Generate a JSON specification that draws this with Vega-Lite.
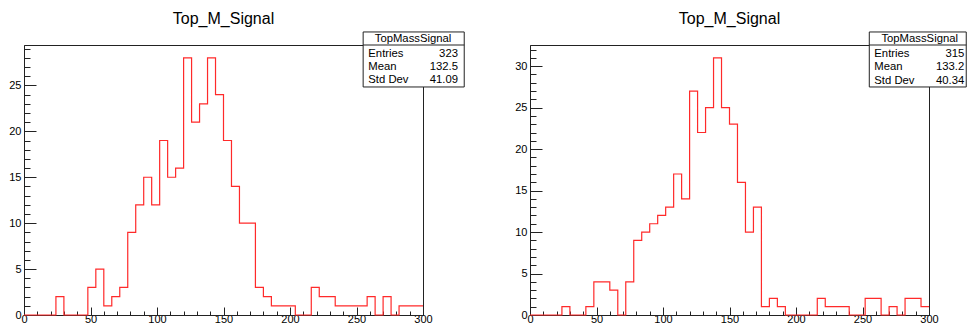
{
  "$schema": "https://vega.github.io/schema/vega-lite/v6.json",
  "background": "white",
  "padding": {"left": 8, "top": 10, "right": 0, "bottom": 0},
  "bounds": "flush",
  "spacing": 107,
  "config": {
    "font": "Liberation Sans",
    "view": {"stroke": "#222", "strokeWidth": 1},
    "axis": {"grid": false, "title": null, "labelFont": "Liberation Sans", "labelFontSize": 11, "labelColor": "#000", "domainColor": "#222", "tickColor": "#222", "labelFlush": false, "labelOverlap": false},
    "title": {"font": "Liberation Sans", "fontSize": 16, "fontWeight": "normal", "color": "#000", "anchor": "middle", "frame": "group"},
    "text": {"font": "Liberation Sans", "fontSize": 11.3, "color": "#000"}
  },
  "datasets": {
    "h1": [
      {"lo":0,"hi":6,"n":0},{"lo":6,"hi":12,"n":0},{"lo":12,"hi":18,"n":0},{"lo":18,"hi":24,"n":0},{"lo":24,"hi":30,"n":2},
      {"lo":30,"hi":36,"n":0},{"lo":36,"hi":42,"n":0},{"lo":42,"hi":48,"n":0},{"lo":48,"hi":54,"n":3},{"lo":54,"hi":60,"n":5},
      {"lo":60,"hi":66,"n":1},{"lo":66,"hi":72,"n":2},{"lo":72,"hi":78,"n":3},{"lo":78,"hi":84,"n":9},{"lo":84,"hi":90,"n":12},
      {"lo":90,"hi":96,"n":15},{"lo":96,"hi":102,"n":12},{"lo":102,"hi":108,"n":19},{"lo":108,"hi":114,"n":15},{"lo":114,"hi":120,"n":16},
      {"lo":120,"hi":126,"n":28},{"lo":126,"hi":132,"n":21},{"lo":132,"hi":138,"n":23},{"lo":138,"hi":144,"n":28},{"lo":144,"hi":150,"n":24},
      {"lo":150,"hi":156,"n":19},{"lo":156,"hi":162,"n":14},{"lo":162,"hi":168,"n":10},{"lo":168,"hi":174,"n":10},{"lo":174,"hi":180,"n":3},
      {"lo":180,"hi":186,"n":2},{"lo":186,"hi":192,"n":1},{"lo":192,"hi":198,"n":1},{"lo":198,"hi":204,"n":1},{"lo":204,"hi":210,"n":0},
      {"lo":210,"hi":216,"n":0},{"lo":216,"hi":222,"n":3},{"lo":222,"hi":228,"n":2},{"lo":228,"hi":234,"n":2},{"lo":234,"hi":240,"n":1},
      {"lo":240,"hi":246,"n":1},{"lo":246,"hi":252,"n":1},{"lo":252,"hi":258,"n":1},{"lo":258,"hi":264,"n":2},{"lo":264,"hi":270,"n":0},
      {"lo":270,"hi":276,"n":2},{"lo":276,"hi":282,"n":0},{"lo":282,"hi":288,"n":1},{"lo":288,"hi":294,"n":1},{"lo":294,"hi":300,"n":1}
    ],
    "h2": [
      {"lo":0,"hi":6,"n":0},{"lo":6,"hi":12,"n":0},{"lo":12,"hi":18,"n":0},{"lo":18,"hi":24,"n":0},{"lo":24,"hi":30,"n":1},
      {"lo":30,"hi":36,"n":0},{"lo":36,"hi":42,"n":0},{"lo":42,"hi":48,"n":1},{"lo":48,"hi":54,"n":4},{"lo":54,"hi":60,"n":4},
      {"lo":60,"hi":66,"n":3},{"lo":66,"hi":72,"n":0},{"lo":72,"hi":78,"n":4},{"lo":78,"hi":84,"n":9},{"lo":84,"hi":90,"n":10},
      {"lo":90,"hi":96,"n":11},{"lo":96,"hi":102,"n":12},{"lo":102,"hi":108,"n":13},{"lo":108,"hi":114,"n":17},{"lo":114,"hi":120,"n":14},
      {"lo":120,"hi":126,"n":27},{"lo":126,"hi":132,"n":22},{"lo":132,"hi":138,"n":25},{"lo":138,"hi":144,"n":31},{"lo":144,"hi":150,"n":25},
      {"lo":150,"hi":156,"n":23},{"lo":156,"hi":162,"n":16},{"lo":162,"hi":168,"n":10},{"lo":168,"hi":174,"n":13},{"lo":174,"hi":180,"n":1},
      {"lo":180,"hi":186,"n":2},{"lo":186,"hi":192,"n":1},{"lo":192,"hi":198,"n":0},{"lo":198,"hi":204,"n":0},{"lo":204,"hi":210,"n":0},
      {"lo":210,"hi":216,"n":0},{"lo":216,"hi":222,"n":2},{"lo":222,"hi":228,"n":1},{"lo":228,"hi":234,"n":1},{"lo":234,"hi":240,"n":1},
      {"lo":240,"hi":246,"n":0},{"lo":246,"hi":252,"n":0},{"lo":252,"hi":258,"n":2},{"lo":258,"hi":264,"n":2},{"lo":264,"hi":270,"n":0},
      {"lo":270,"hi":276,"n":1},{"lo":276,"hi":282,"n":0},{"lo":282,"hi":288,"n":2},{"lo":288,"hi":294,"n":2},{"lo":294,"hi":300,"n":1}
    ],
    "s1": [
      {"hist":"TopMassSignal","stat":"Entries","value":"323"},
      {"hist":"TopMassSignal","stat":"Mean","value":"132.5"},
      {"hist":"TopMassSignal","stat":"Std Dev","value":"41.09"}
    ],
    "s2": [
      {"hist":"TopMassSignal","stat":"Entries","value":"315"},
      {"hist":"TopMassSignal","stat":"Mean","value":"133.2"},
      {"hist":"TopMassSignal","stat":"Std Dev","value":"40.34"}
    ]
  },
  "hconcat": [
    {
      "width": 399,
      "height": 270,
      "title": {"text": "Top_M_Signal", "offset": 4},
      "resolve": {"axis": {"x": "independent", "y": "independent"}},
      "layer": [
        {
          "data": {"name": "h1"},
          "transform": [{"fold": ["lo", "hi"], "as": ["edge", "xv"]}],
          "mark": {"type": "line", "color": "#ff2a2a", "strokeWidth": 1.2, "clip": false},
          "encoding": {
            "x": {"field": "xv", "type": "quantitative", "scale": {"domain": [0, 300], "nice": false, "zero": false},
                  "axis": {"orient": "bottom", "values": [0, 50, 100, 150, 200, 250, 300], "tickSize": -8, "labelPadding": 6}},
            "y": {"field": "n", "type": "quantitative", "scale": {"domain": [0, 29.4], "nice": false},
                  "axis": {"orient": "left", "values": [0, 5, 10, 15, 20, 25], "tickSize": -12, "labelPadding": 15}},
            "order": [{"field": "xv", "type": "quantitative"}, {"field": "edge", "type": "nominal"}]
          }
        },
        {
          "data": {"name": "h1"},
          "transform": [{"fold": ["lo", "hi"], "as": ["edge", "xv"]}],
          "mark": {"type": "line", "opacity": 0},
          "encoding": {
            "x": {"field": "xv", "type": "quantitative",
                  "axis": {"orient": "bottom", "values": [0,10,20,30,40,50,60,70,80,90,100,110,120,130,140,150,160,170,180,190,200,210,220,230,240,250,260,270,280,290,300], "tickSize": -4, "labels": false, "domain": false}},
            "y": {"field": "n", "type": "quantitative",
                  "axis": {"orient": "left", "values": [0,1,2,3,4,5,6,7,8,9,10,11,12,13,14,15,16,17,18,19,20,21,22,23,24,25,26,27,28,29], "tickSize": -6, "labels": false, "domain": false}}
          }
        },
        {
          "data": {"name": "s1"},
          "transform": [{"filter": "datum.stat == 'Entries'"}],
          "mark": {"type": "rect", "fill": "white", "stroke": "#222", "strokeWidth": 1, "clip": false},
          "encoding": {
            "x": {"datum": 255, "type": "quantitative", "axis": null},
            "x2": {"datum": 331},
            "y": {"datum": 30.82, "type": "quantitative", "axis": null},
            "y2": {"datum": 24.83}
          }
        },
        {
          "data": {"name": "s1"},
          "transform": [{"filter": "datum.stat == 'Entries'"}],
          "mark": {"type": "rule", "stroke": "#222", "strokeWidth": 1, "clip": false},
          "encoding": {
            "x": {"datum": 255, "type": "quantitative", "axis": null},
            "x2": {"datum": 331},
            "y": {"datum": 29.4, "type": "quantitative", "axis": null}
          }
        },
        {
          "data": {"name": "s1"},
          "transform": [{"filter": "datum.stat == 'Entries'"}],
          "mark": {"type": "text", "align": "center", "baseline": "middle", "clip": false},
          "encoding": {
            "x": {"datum": 292.5, "type": "quantitative", "axis": null},
            "y": {"datum": 30.05, "type": "quantitative", "axis": null},
            "text": {"field": "hist"}
          }
        },
        {
          "data": {"name": "s1"},
          "transform": [{"filter": "datum.stat == 'Entries'"}],
          "mark": {"type": "text", "align": "left", "baseline": "middle", "clip": false},
          "encoding": {"x": {"datum": 258.9, "type": "quantitative", "axis": null}, "y": {"datum": 28.45, "type": "quantitative", "axis": null}, "text": {"field": "stat"}}
        },
        {
          "data": {"name": "s1"},
          "transform": [{"filter": "datum.stat == 'Entries'"}],
          "mark": {"type": "text", "align": "right", "baseline": "middle", "clip": false},
          "encoding": {"x": {"datum": 326.3, "type": "quantitative", "axis": null}, "y": {"datum": 28.45, "type": "quantitative", "axis": null}, "text": {"field": "value"}}
        },
        {
          "data": {"name": "s1"},
          "transform": [{"filter": "datum.stat == 'Mean'"}],
          "mark": {"type": "text", "align": "left", "baseline": "middle", "clip": false},
          "encoding": {"x": {"datum": 258.9, "type": "quantitative", "axis": null}, "y": {"datum": 27.03, "type": "quantitative", "axis": null}, "text": {"field": "stat"}}
        },
        {
          "data": {"name": "s1"},
          "transform": [{"filter": "datum.stat == 'Mean'"}],
          "mark": {"type": "text", "align": "right", "baseline": "middle", "clip": false},
          "encoding": {"x": {"datum": 326.3, "type": "quantitative", "axis": null}, "y": {"datum": 27.03, "type": "quantitative", "axis": null}, "text": {"field": "value"}}
        },
        {
          "data": {"name": "s1"},
          "transform": [{"filter": "datum.stat == 'Std Dev'"}],
          "mark": {"type": "text", "align": "left", "baseline": "middle", "clip": false},
          "encoding": {"x": {"datum": 258.9, "type": "quantitative", "axis": null}, "y": {"datum": 25.55, "type": "quantitative", "axis": null}, "text": {"field": "stat"}}
        },
        {
          "data": {"name": "s1"},
          "transform": [{"filter": "datum.stat == 'Std Dev'"}],
          "mark": {"type": "text", "align": "right", "baseline": "middle", "clip": false},
          "encoding": {"x": {"datum": 326.3, "type": "quantitative", "axis": null}, "y": {"datum": 25.55, "type": "quantitative", "axis": null}, "text": {"field": "value"}}
        }
      ]
    },
    {
      "width": 399,
      "height": 270,
      "title": {"text": "Top_M_Signal", "offset": 4},
      "resolve": {"axis": {"x": "independent", "y": "independent"}},
      "layer": [
        {
          "data": {"name": "h2"},
          "transform": [{"fold": ["lo", "hi"], "as": ["edge", "xv"]}],
          "mark": {"type": "line", "color": "#ff2a2a", "strokeWidth": 1.2, "clip": false},
          "encoding": {
            "x": {"field": "xv", "type": "quantitative", "scale": {"domain": [0, 300], "nice": false, "zero": false},
                  "axis": {"orient": "bottom", "values": [0, 50, 100, 150, 200, 250, 300], "tickSize": -8, "labelPadding": 6}},
            "y": {"field": "n", "type": "quantitative", "scale": {"domain": [0, 32.55], "nice": false},
                  "axis": {"orient": "left", "values": [0, 5, 10, 15, 20, 25, 30], "tickSize": -12, "labelPadding": 15}},
            "order": [{"field": "xv", "type": "quantitative"}, {"field": "edge", "type": "nominal"}]
          }
        },
        {
          "data": {"name": "h2"},
          "transform": [{"fold": ["lo", "hi"], "as": ["edge", "xv"]}],
          "mark": {"type": "line", "opacity": 0},
          "encoding": {
            "x": {"field": "xv", "type": "quantitative",
                  "axis": {"orient": "bottom", "values": [0,10,20,30,40,50,60,70,80,90,100,110,120,130,140,150,160,170,180,190,200,210,220,230,240,250,260,270,280,290,300], "tickSize": -4, "labels": false, "domain": false}},
            "y": {"field": "n", "type": "quantitative",
                  "axis": {"orient": "left", "values": [0,1,2,3,4,5,6,7,8,9,10,11,12,13,14,15,16,17,18,19,20,21,22,23,24,25,26,27,28,29,30,31,32], "tickSize": -6, "labels": false, "domain": false}}
          }
        },
        {
          "data": {"name": "s2"},
          "transform": [{"filter": "datum.stat == 'Entries'"}],
          "mark": {"type": "rect", "fill": "white", "stroke": "#222", "strokeWidth": 1, "clip": false},
          "encoding": {
            "x": {"datum": 255.1, "type": "quantitative", "axis": null},
            "x2": {"datum": 328},
            "y": {"datum": 34.12, "type": "quantitative", "axis": null},
            "y2": {"datum": 27.49}
          }
        },
        {
          "data": {"name": "s2"},
          "transform": [{"filter": "datum.stat == 'Entries'"}],
          "mark": {"type": "rule", "stroke": "#222", "strokeWidth": 1, "clip": false},
          "encoding": {
            "x": {"datum": 255.1, "type": "quantitative", "axis": null},
            "x2": {"datum": 328},
            "y": {"datum": 32.55, "type": "quantitative", "axis": null}
          }
        },
        {
          "data": {"name": "s2"},
          "transform": [{"filter": "datum.stat == 'Entries'"}],
          "mark": {"type": "text", "align": "center", "baseline": "middle", "clip": false},
          "encoding": {
            "x": {"datum": 293, "type": "quantitative", "axis": null},
            "y": {"datum": 33.27, "type": "quantitative", "axis": null},
            "text": {"field": "hist"}
          }
        },
        {
          "data": {"name": "s2"},
          "transform": [{"filter": "datum.stat == 'Entries'"}],
          "mark": {"type": "text", "align": "left", "baseline": "middle", "clip": false},
          "encoding": {"x": {"datum": 258.9, "type": "quantitative", "axis": null}, "y": {"datum": 31.5, "type": "quantitative", "axis": null}, "text": {"field": "stat"}}
        },
        {
          "data": {"name": "s2"},
          "transform": [{"filter": "datum.stat == 'Entries'"}],
          "mark": {"type": "text", "align": "right", "baseline": "middle", "clip": false},
          "encoding": {"x": {"datum": 326.5, "type": "quantitative", "axis": null}, "y": {"datum": 31.5, "type": "quantitative", "axis": null}, "text": {"field": "value"}}
        },
        {
          "data": {"name": "s2"},
          "transform": [{"filter": "datum.stat == 'Mean'"}],
          "mark": {"type": "text", "align": "left", "baseline": "middle", "clip": false},
          "encoding": {"x": {"datum": 258.9, "type": "quantitative", "axis": null}, "y": {"datum": 29.9, "type": "quantitative", "axis": null}, "text": {"field": "stat"}}
        },
        {
          "data": {"name": "s2"},
          "transform": [{"filter": "datum.stat == 'Mean'"}],
          "mark": {"type": "text", "align": "right", "baseline": "middle", "clip": false},
          "encoding": {"x": {"datum": 326.5, "type": "quantitative", "axis": null}, "y": {"datum": 29.9, "type": "quantitative", "axis": null}, "text": {"field": "value"}}
        },
        {
          "data": {"name": "s2"},
          "transform": [{"filter": "datum.stat == 'Std Dev'"}],
          "mark": {"type": "text", "align": "left", "baseline": "middle", "clip": false},
          "encoding": {"x": {"datum": 258.9, "type": "quantitative", "axis": null}, "y": {"datum": 28.26, "type": "quantitative", "axis": null}, "text": {"field": "stat"}}
        },
        {
          "data": {"name": "s2"},
          "transform": [{"filter": "datum.stat == 'Std Dev'"}],
          "mark": {"type": "text", "align": "right", "baseline": "middle", "clip": false},
          "encoding": {"x": {"datum": 326.5, "type": "quantitative", "axis": null}, "y": {"datum": 28.26, "type": "quantitative", "axis": null}, "text": {"field": "value"}}
        }
      ]
    }
  ]
}
